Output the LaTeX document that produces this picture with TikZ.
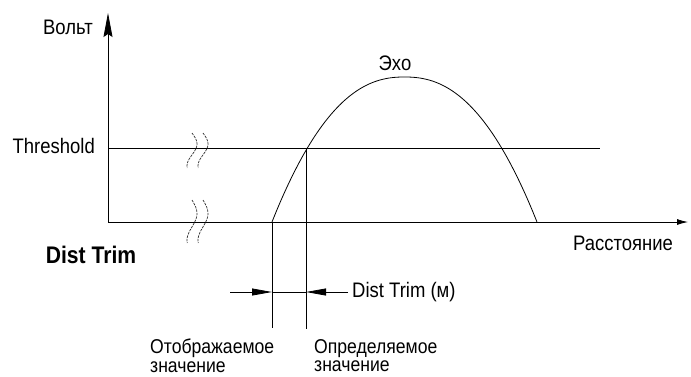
\documentclass[tikz,border=0pt]{standalone}
\usepackage{fontspec}
\setmainfont{Liberation Sans}[FakeStretch=0.88]
\usetikzlibrary{arrows.meta, positioning}

\begin{document}
\begin{tikzpicture}[
  x=1pt, y=-1pt,
  %% --- Line styles ---
  axis/.style={line width=0.8pt, draw=black},
  guide/.style={line width=0.8pt, draw=black},
  breakmark/.style={line width=0.7pt, draw=black!80, dash pattern=on 2.5pt off 1pt},
  dimarrow/.style={-{Triangle[length=20pt, width=7pt]}, line width=0.8pt, draw=black},
  %% --- Text styles ---
  lbl/.style={font=\fontsize{21}{18}\selectfont, inner sep=0pt},
  lbltwo/.style={font=\fontsize{20}{18.5}\selectfont, inner sep=0pt, align=left},
  lblbold/.style={font=\fontsize{24}{22}\selectfont\bfseries, inner sep=0pt}
]
\useasboundingbox (0,0) rectangle (691,376);

%% =========================================================
%% COORDINATES
%% =========================================================
\coordinate (origin) at (108,222);
\coordinate (ytop)   at (108,13);
\coordinate (xend)   at (688,222);
\coordinate (thrL)   at (108,148);
\coordinate (thrR)   at (600,148);
\coordinate (echoA)  at (272,222);
\coordinate (echoX)  at (306,148);
\coordinate (dispB)  at (272,328);
\coordinate (detB)   at (306,329);
\coordinate (dimL)   at (230,292);
\coordinate (dimA)   at (272,292);
\coordinate (dimB)   at (306,292);
\coordinate (dimR)   at (348,292);

%% =========================================================
%% AXES AND THRESHOLD
%% =========================================================
\draw[axis, -{Stealth[length=24pt, width=9pt, inset=3pt]}] (origin) -- (ytop);
\draw[axis, -{Latex[length=11pt, width=6pt]}] (origin) -- (xend);
\draw[guide] (thrL) -- (thrR);

%% axis breaks
\foreach \bx in {192,203} {
  \draw[breakmark] plot[domain=0:0.8, samples=25, smooth]
        ({\bx+5*sin(360*\x)}, {133+35*\x/0.8});
  \draw[breakmark] plot[domain=0:0.8, samples=25, smooth]
        ({\bx+5*sin(360*\x)}, {200+43*\x/0.8});
}

%% =========================================================
%% ECHO CURVE
%% =========================================================
\draw[guide] plot[domain=-1:1, samples=60, smooth]
      ({404.5+132.5*\x}, {222-145*(1-abs(\x)^2.3)});

%% =========================================================
%% DIST TRIM DIMENSION
%% =========================================================
\draw[guide] (echoA) -- (dispB);
\draw[guide] (echoX) -- (detB);
\draw[guide] (dimA) -- (dimB);
\draw[dimarrow] (dimL) -- (dimA);
\draw[dimarrow] (dimR) -- (dimB);

%% =========================================================
%% LABELS
%% =========================================================
\node (volt)   [lbl, anchor=base east] at (93,34)  {Вольт};
\node (thresh) [lbl, anchor=base east] at (95,153) {Threshold};
\node (echo)   [lbl, anchor=base]      at (395,70) {Эхо};
\node (dist)   [lbl, anchor=base]      at (623,250) {Расстояние};
\node (trim)   [lblbold, anchor=base]  at (91,263) {Dist Trim};
\node (trimlbl)[lbl, right=4pt of dimR] {Dist Trim (м)};
\node (shown)  [lbltwo, anchor=north west] at (150,339)
      {Отображаемое\\значение};
\node (found)  [lbltwo, anchor=north west] at (314,339)
      {Определяемое\\значение};

\end{tikzpicture}
\end{document}
